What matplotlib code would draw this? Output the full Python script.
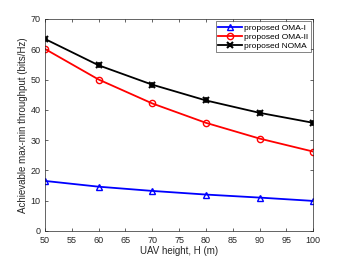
import matplotlib
matplotlib.use('Agg')
import matplotlib.pyplot as plt

altura = [50, 60, 70, 80, 90, 100]
oma_1 = [16.5, 14.6, 13.2, 12.0, 11.0, 9.9]
oma_2 = [60.1, 50.0, 42.1, 35.7, 30.5, 26.2]
noma = [63.4, 54.7, 48.3, 43.1, 39.0, 35.7]

plt.rcParams['font.family'] = ['Liberation Sans', 'DejaVu Sans']
gris = '#262626'

fig = plt.figure(figsize=(3.46, 2.6), dpi=100)
ax = fig.add_axes([0.130, 0.112, 0.775, 0.815])

ax.plot(altura, oma_1, color='blue', marker='^', markersize=5, mfc='none', mew=1.0,
        linewidth=1.3, label='proposed OMA-I')
ax.plot(altura, oma_2, color='red', marker='o', markersize=4.5, mfc='none', mew=1.0,
        linewidth=1.3, label='proposed OMA-II')
ax.plot(altura, noma, color='black', marker='x', markersize=4.5, mew=1.5,
        linewidth=1.3, label='proposed NOMA')
ax.plot(altura, noma, color='black', marker='+', markersize=5, mew=1.2, linestyle='none')

ax.set_xlim(50, 100)
ax.set_ylim(0, 70)
ax.set_xticks(range(50, 101, 5))
ax.set_yticks(range(0, 71, 10))
ax.tick_params(direction='in', length=2.5, width=0.5, labelsize=6.5, colors=gris,
               top=True, right=True)
ax.tick_params(axis='x', pad=3.5)
ax.tick_params(axis='y', pad=3)
for s in ax.spines.values():
    s.set_linewidth(0.5)
    s.set_color(gris)

ax.set_xlabel('UAV height, H (m)', fontsize=7, color=gris, labelpad=1)
ax.set_ylabel('Achievable max-min throughput (bits/Hz)', fontsize=7, color=gris, labelpad=2)

leg = ax.legend(loc='upper right', fontsize=6, frameon=True, fancybox=False,
                borderaxespad=0.3, handlelength=2.8, labelspacing=0.15,
                borderpad=0.3, handletextpad=0.3)
leg.get_frame().set_edgecolor(gris)
leg.get_frame().set_linewidth(0.5)

plt.savefig('out.png', dpi=100)
plt.close()
